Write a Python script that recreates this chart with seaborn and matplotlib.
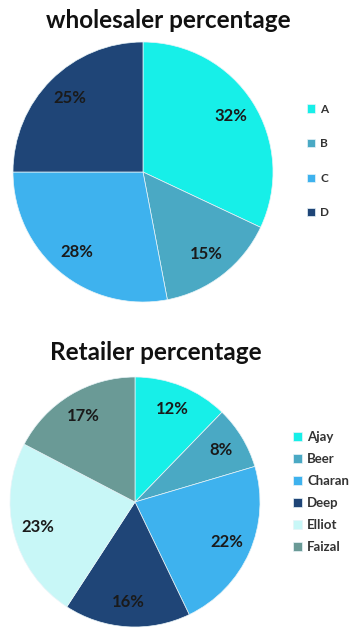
import seaborn as sns
import matplotlib.pyplot as plt

# wholesaler data
w_labels = ["A", "B", "C", "D"]
w_values = [32, 15, 28, 25]
w_colors = ["#17EFE8", "#4AA9C4", "#3EB2EE", "#1F4577"]

# retailer data
r_labels = ["Ajay", "Beer", "Charan", "Deep", "Elliot", "Faizal"]
r_values = [12, 8, 22, 16, 23, 17]
r_colors = ["#17EFE8", "#4AA9C4", "#3EB2EE", "#1F4577", "#C8F7F7", "#6A9A96"]

sns.set_theme(style="white")
plt.rcParams['font.family'] = ['Lato', 'DejaVu Sans']

fig = plt.figure(figsize=(3.51, 6.32), dpi=100)


def draw_pie(rect, values, labels, colors, title, title_xy, leg_anchor, spacing, fsize):
    ax = fig.add_axes(rect)
    wedges, _, autotexts = ax.pie(
        values, colors=colors, startangle=90, counterclock=False,
        autopct=lambda p: f"{p:.0f}%", pctdistance=0.8, radius=1,
        wedgeprops=dict(linewidth=0.5, edgecolor="#e8f4f8"),
        textprops=dict(fontsize=12, fontweight="bold", color="#1a1a1a"),
    )
    ax.set_xlim(-1, 1)
    ax.set_ylim(-1, 1)
    ax.set_aspect("equal")
    ax.axis("off")
    fig.text(title_xy[0], title_xy[1], title, ha="center", va="center",
             fontsize=17.5, fontweight="bold", color="#111111")
    fig.legend(wedges, labels, loc="center left", bbox_to_anchor=leg_anchor,
               frameon=False, handlelength=0.7, handleheight=0.7, handletextpad=0.4,
               labelspacing=spacing, prop=dict(size=fsize, weight="bold"),
               labelcolor="#333333")
    return ax


draw_pie([13 / 351, 330 / 632, 260 / 351, 260 / 632], w_values, w_labels, w_colors,
         "wholesaler percentage", (168 / 351, 1 - 21 / 632), (0.845, 1 - 161 / 632), 2.0, 8.5)
draw_pie([10 / 351, 5 / 632, 250 / 351, 250 / 632], r_values, r_labels, r_colors,
         "Retailer percentage", (156 / 351, 1 - 353 / 632), (0.80, 1 - 492 / 632), 0.75, 9.5)

fig.savefig("out.png", dpi=100)
